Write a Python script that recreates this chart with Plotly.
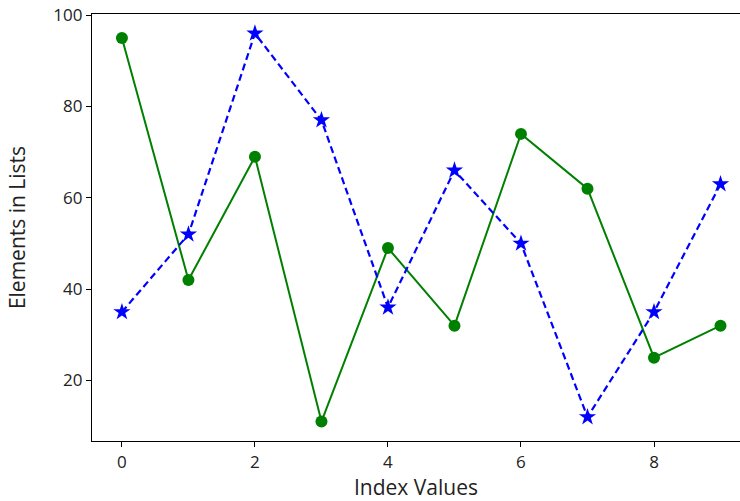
import plotly.graph_objects as go

index_values = list(range(10))
green_values = [95, 42, 69, 11, 49, 32, 74, 62, 25, 32]
blue_values = [35, 52, 96, 77, 36, 66, 50, 12, 35, 63]
x_ticks = [0, 2, 4, 6, 8]
y_ticks = [20, 40, 60, 80, 100]

fig = go.Figure()
fig.add_trace(go.Scatter(
    x=index_values, y=green_values, mode="lines+markers",
    line=dict(color="#008000", width=2),
    marker=dict(symbol="circle", size=12, color="#008000"),
    showlegend=False,
))
fig.add_trace(go.Scatter(
    x=index_values, y=blue_values, mode="lines+markers",
    line=dict(color="#0000ff", width=2.2, dash="7px,4px"),
    marker=dict(symbol="star", size=13, color="#0000ff"),
    showlegend=False,
))

fig.update_layout(
    width=740, height=501,
    margin=dict(l=92, r=0, t=14, b=60),
    paper_bgcolor="white", plot_bgcolor="white",
    font=dict(family="Open Sans", size=17, color="#222222"),
)
fig.update_xaxes(
    range=[-0.45, 9.293], tickvals=x_ticks, ticks="outside", ticklen=5,
    tickcolor="black", showline=True, linecolor="black", linewidth=1.3,
    mirror=True, showgrid=False, zeroline=False, ticklabeloverflow="allow",
    automargin=False,
    title=dict(text="Index Values", standoff=6, font=dict(size=21)),
)
fig.update_yaxes(
    range=[6.75, 100.25], tickvals=y_ticks, ticks="outside", ticklen=5,
    tickcolor="black", showline=True, linecolor="black", linewidth=1.3,
    showgrid=False, zeroline=False, ticklabeloverflow="allow",
    automargin=False,
    title=dict(text="Elements in Lists", standoff=21, font=dict(size=21)),
)

# remove the page's default body margin so the figure fills the window exactly
fig.write_html(
    "out.html",
    config={"displayModeBar": False},
    post_script="document.body.style.margin='0';",
)
